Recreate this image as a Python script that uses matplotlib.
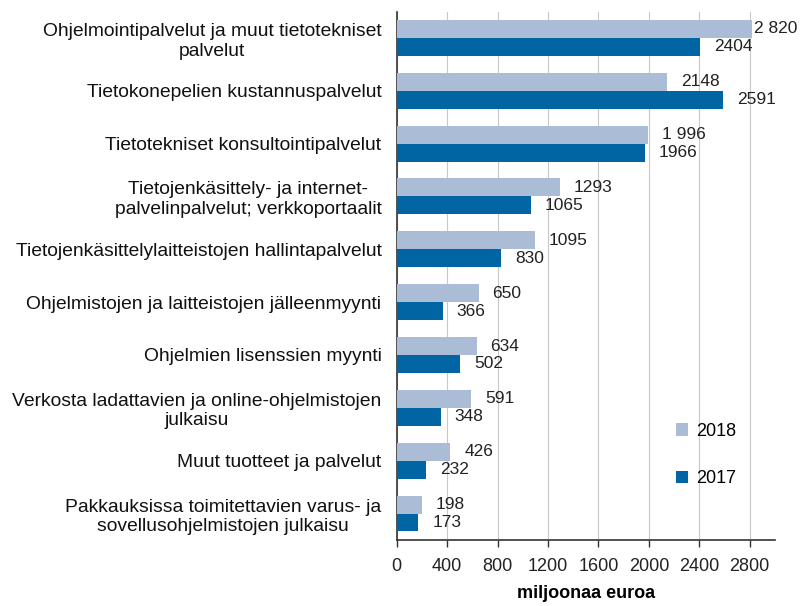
import matplotlib
matplotlib.use("Agg")
import matplotlib.pyplot as plt
import numpy as np

categories = [
    "Ohjelmointipalvelut ja muut tietotekniset\npalvelut",
    "Tietokonepelien kustannuspalvelut",
    "Tietotekniset konsultointipalvelut",
    "Tietojenkäsittely- ja internet-\npalvelinpalvelut; verkkoportaalit",
    "Tietojenkäsittelylaitteistojen hallintapalvelut",
    "Ohjelmistojen ja laitteistojen jälleenmyynti",
    "Ohjelmien lisenssien myynti",
    "Verkosta ladattavien ja online-ohjelmistojen\njulkaisu",
    "Muut tuotteet ja palvelut",
    "Pakkauksissa toimitettavien varus- ja\nsovellusohjelmistojen julkaisu",
]
values_2018 = [2820, 2148, 1996, 1293, 1095, 650, 634, 591, 426, 198]
values_2017 = [2404, 2591, 1966, 1065, 830, 366, 502, 348, 232, 173]
labels_2018 = ["2 820", "2148", "1 996", "1293", "1095", "650", "634", "591", "426", "198"]
labels_2017 = ["2404", "2591", "1966", "1065", "830", "366", "502", "348", "232", "173"]
xticks = [0, 400, 800, 1200, 1600, 2000, 2400, 2800]

plt.rcParams['font.family'] = ['Liberation Sans', 'DejaVu Sans']

fig = plt.figure(figsize=(8.03, 6.06), dpi=100)
ax = fig.add_axes([0.494, 0.109, 0.471, 0.872])

n = len(categories)
y = np.arange(n)[::-1].astype(float)
h = 0.34
c18 = "#abbcd7"
c17 = "#0065a2"

b18 = ax.barh(y + h / 2, values_2018, height=h, color=c18, label="2018", zorder=3)
b17 = ax.barh(y - h / 2, values_2017, height=h, color=c17, label="2017", zorder=3)

xmax = 3000
for rect, lab in zip(b18, labels_2018):
    off = 10 if rect.get_width() < 2700 else 1.0
    ax.annotate(lab, (rect.get_width(), rect.get_y() + rect.get_height() / 2),
                xytext=(off, 0), textcoords="offset points", ha="left", va="center",
                fontsize=12.5, color="#222222")
for rect, lab in zip(b17, labels_2017):
    ax.annotate(lab, (rect.get_width(), rect.get_y() + rect.get_height() / 2),
                xytext=(10, 0), textcoords="offset points", ha="left", va="center",
                fontsize=12.5, color="#222222")

ax.set_xlim(0, xmax)
ax.set_ylim(-0.5, n - 0.5)
ax.set_xticks(xticks)
ax.set_xticklabels([str(t) for t in xticks], fontsize=13, color="#222222")
ax.set_yticks(y)
ax.set_yticklabels(categories, fontsize=13.9, color="#111111", multialignment="center")
ax.tick_params(axis="y", length=0, pad=11)
ax.tick_params(axis="x", length=5, width=1, color="#333333", direction="out", pad=8)

ax.grid(axis="x", color="#c8c8c8", linewidth=0.8, zorder=0)
for s in ["top", "right"]:
    ax.spines[s].set_visible(False)
ax.spines["left"].set_color("#333333")
ax.spines["bottom"].set_color("#333333")
ax.spines["left"].set_linewidth(1.2)
ax.spines["bottom"].set_linewidth(1.2)

ax.set_xlabel("miljoonaa euroa", fontsize=13, fontweight="bold", labelpad=7)

leg = ax.legend(loc="upper left", bbox_to_anchor=(0.738, 0.222), frameon=False,
                fontsize=13, handlelength=0.7, handleheight=0.7, labelspacing=1.7,
                handletextpad=0.45, borderpad=0, borderaxespad=0)

fig.savefig("out.png", dpi=100)
